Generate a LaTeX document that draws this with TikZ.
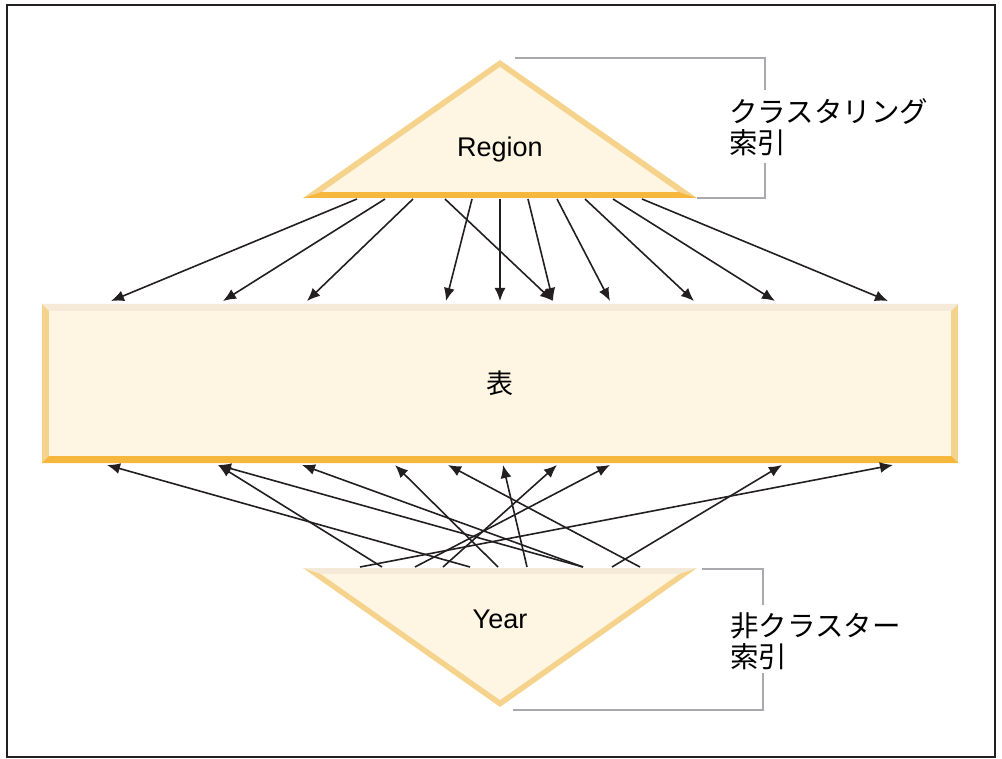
\documentclass[tikz,border=0pt]{standalone}
\usepackage{fontspec}
\setmainfont{Liberation Sans}
\newfontfamily\jp{Noto Sans CJK JP}
\usetikzlibrary{arrows.meta}
\definecolor{triSide}{HTML}{F6D38C}
\definecolor{triBase}{HTML}{F5B83C}
\definecolor{triLite}{HTML}{F4EAD7}
\definecolor{paper}{HTML}{FEF6E3}
\definecolor{ink}{HTML}{231F20}
\definecolor{brkgray}{HTML}{A7A9AC}
\tikzset{
  arr/.style={ink,line width=1.6pt,-{Latex[length=13pt,width=11pt]}},
  brk/.style={brkgray,line width=1.5pt},
  lbl/.style={font=\fontsize{27}{32}\selectfont,inner sep=0pt},
  jlbl/.style={font=\fontsize{28.5}{31}\selectfont\jp,inner sep=0pt,anchor=west,align=left}
}
\begin{document}
\begin{tikzpicture}[x=1pt,y=-1pt]
\useasboundingbox (0,0) rectangle (1002,759);
\draw[ink,line width=2pt] (7,5) rectangle (995,757);

% clustering index
\fill[triSide] (303,198) -- (500,60) -- (697,198) -- cycle;
\fill[triBase] (303,198) -- (697,198) -- (678,192) -- (322,192) -- cycle;
\fill[paper] (322,192) -- (500,67) -- (678,192) -- cycle;
\node[lbl] (region) at (500,150) {Region};
\draw[brk] (515,58) -- (765,58) -- (765,90);
\draw[brk] (765,163) -- (765,198) -- (697,198);
\node[jlbl] (clidx) at (729,127) {クラスタリング\\索引};

% table
\fill[triSide] (42,304) rectangle (958,463);
\fill[triLite] (42,304) -- (958,304) -- (951,311) -- (49,311) -- cycle;
\fill[triBase] (42,463) -- (958,463) -- (951,456) -- (49,456) -- cycle;
\fill[paper] (49,311) rectangle (951,456);
\node[lbl] (tbl) at (500,383) {\jp 表};

% non-clustered index
\fill[triSide] (303,568) -- (697,568) -- (500,707) -- cycle;
\fill[triLite] (303,568) -- (697,568) -- (679,574) -- (321,574) -- cycle;
\fill[paper] (321,574) -- (679,574) -- (500,700) -- cycle;
\node[lbl] (year) at (500,619) {Year};
\draw[brk] (702,569) -- (763,569) -- (763,605);
\draw[brk] (763,673) -- (763,710) -- (513,710);
\node[jlbl] (ncidx) at (730,641) {非クラスター\\索引};

% region -> table
\coordinate (r1) at (357,199);
\coordinate (r2) at (385,199);
\coordinate (r3) at (413,199);
\coordinate (r4) at (445,199);
\coordinate (r5) at (472,199);
\coordinate (r6) at (500,199);
\coordinate (r7) at (528,199);
\coordinate (r8) at (557,199);
\coordinate (r9) at (585,199);
\coordinate (r10) at (613,199);
\coordinate (r11) at (642,199);
\coordinate (t1) at (111,301);
\coordinate (t2) at (223,301);
\coordinate (t3) at (307,301);
\coordinate (t4) at (446,301);
\coordinate (t5) at (500,301);
\coordinate (t6) at (553,301);
\coordinate (t7) at (610,301);
\coordinate (t8) at (694,301);
\coordinate (t9) at (775,301);
\coordinate (t10) at (888,301);
\foreach \s/\t in {r1/t1,r2/t2,r3/t3,r4/t6,r5/t4,r6/t5,r7/t6,r8/t7,r9/t8,r10/t9,r11/t10}
  \draw[arr] (\s) -- (\t);

% year -> table
\coordinate (y1) at (360,567);
\coordinate (y2) at (382,567);
\coordinate (y3) at (415,567);
\coordinate (y4) at (443,567);
\coordinate (y5) at (470,567);
\coordinate (y6) at (498,567);
\coordinate (y7) at (527,567);
\coordinate (y8) at (583,567);
\coordinate (y9) at (612,567);
\coordinate (y10) at (640,567);
\coordinate (b1) at (107,465);
\coordinate (b2) at (218,465);
\coordinate (b3) at (302,465);
\coordinate (b4) at (395,465);
\coordinate (b5) at (448,465);
\coordinate (b6) at (503,465);
\coordinate (b7) at (557,465);
\coordinate (b8) at (610,465);
\coordinate (b9) at (782,465);
\coordinate (b10) at (893,465);
\foreach \s/\t in {y1/b10,y2/b2,y3/b8,y4/b7,y5/b1,y6/b4,y7/b6,y8/b2,y8/b3,y9/b9,y10/b5}
  \draw[arr] (\s) -- (\t);
\end{tikzpicture}
\end{document}
